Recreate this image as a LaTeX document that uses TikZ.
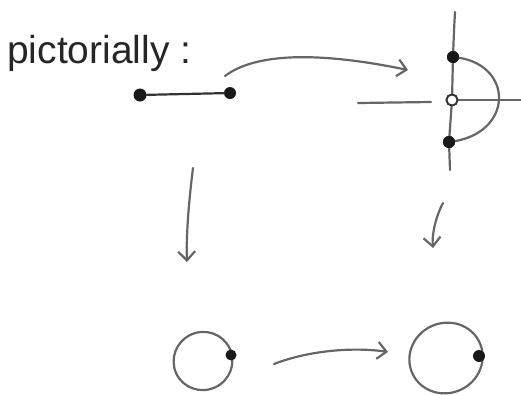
\documentclass[tikz,border=0pt]{standalone}
\usepackage{fontspec}
\setmainfont{Liberation Sans}
\usetikzlibrary{arrows.meta,shapes.geometric}
\begin{document}
\begin{tikzpicture}[x=1pt,y=-1pt,
  stroke/.style={draw=black!60, line width=2.2pt, line cap=round, line join=round},
  arr/.style={stroke, -{Straight Barb[length=9pt,width=17pt,line width=2.2pt]}},
  dot/.style={circle, fill=black!90, inner sep=0pt, minimum size=12pt},
  odot/.style={circle, draw=black!80, fill=white, line width=1.8pt, inner sep=0pt, minimum size=11pt},
  ringshape/.style={ellipse, stroke}]
\useasboundingbox (0,0) rectangle (521,394);
% title
\node[anchor=base west, inner sep=0pt, text=black!85, font=\fontsize{39}{40}\selectfont] (title) at (7,63) {pictorially :};
% segment
\node[dot, minimum size=13pt] (sa) at (140,95) {};
\node[dot, minimum width=12pt, minimum height=10pt] (sb) at (230,93) {};
\draw[stroke, draw=black!80] (sa) -- (sb);
% right figure
\coordinate (vt) at (455,12);
\coordinate (vb) at (450,170);
\node[dot] (pt) at (453,57) {};
\node[odot] (pc) at (452,100) {};
\node[dot] (pb) at (449,142) {};
\coordinate (hl) at (358,103);
\coordinate (hm) at (431,102);
\coordinate (hr) at (521,100);
\draw[stroke] (vt) .. controls (454,30) .. (pt.center);
\draw[stroke] (pt) -- (pc);
\draw[stroke] (pc) -- (pb);
\draw[stroke] (pb.center) -- (vb);
\draw[stroke] (hl) -- (hm);
\draw[stroke] (pc) -- (hr);
\draw[stroke] (pt.center) .. controls (515,62) and (515,135) .. (pb.center);
\node[dot] at (pt) {};
\node[dot] at (pb) {};
\node[odot] at (pc) {};
% top arrow
\coordinate (ta) at (225,76);
\coordinate (tb) at (408,70);
\draw[arr] (ta) .. controls (262,48) and (340,56) .. (tb);
% down arrows
\coordinate (la) at (193,168);
\coordinate (lb) at (187,262);
\draw[arr] (la) .. controls (189,200) and (186,235) .. (lb);
\coordinate (ra) at (443,203);
\coordinate (rb) at (433,248);
\draw[arr] (ra) .. controls (434,220) and (432,238) .. (rb);
% bottom rings
\node[ringshape, minimum width=59pt, minimum height=58pt, rotate=25, inner sep=0pt] (c1) at (203,361) {};
\node[dot, minimum size=11pt] (d1) at (231,355) {};
\node[ringshape, minimum width=74pt, minimum height=70pt, rotate=25, inner sep=0pt] (c2) at (446,358) {};
\node[dot, minimum size=12pt] (d2) at (479,356) {};
% bottom arrow
\coordinate (ba) at (274,364);
\coordinate (bb) at (388,352);
\draw[arr] (ba) .. controls (310,350) and (355,347) .. (bb);
\end{tikzpicture}
\end{document}
